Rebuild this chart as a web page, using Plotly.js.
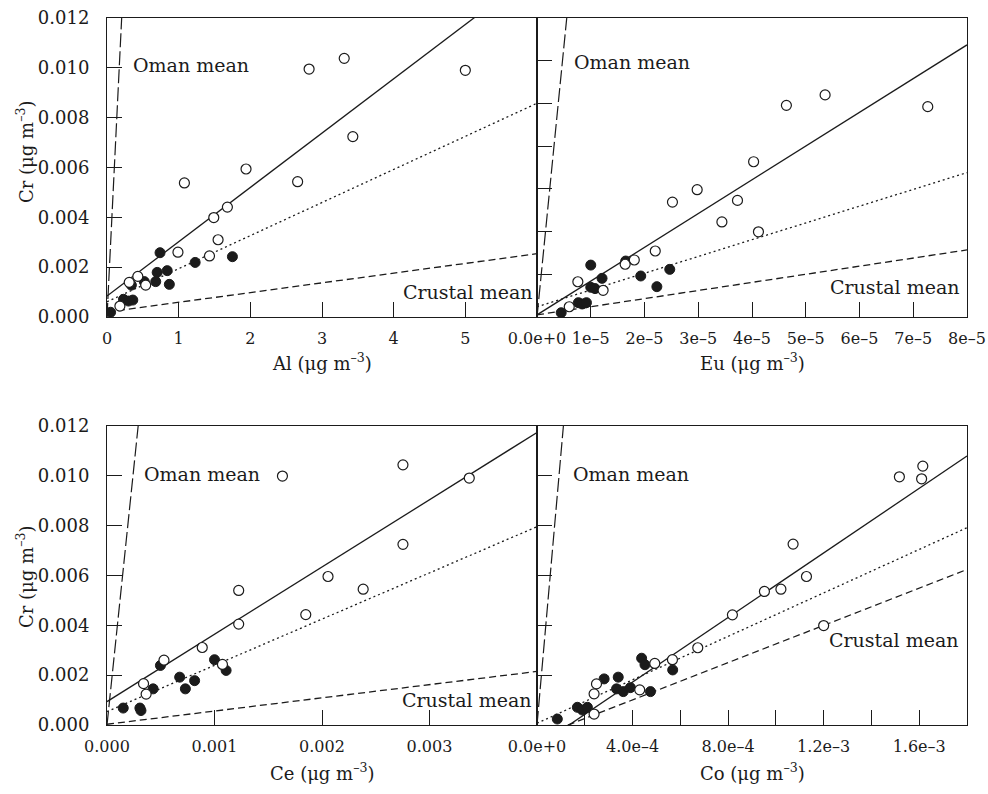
<!DOCTYPE html>
<html><head><meta charset="utf-8">
<script src="https://cdn.plot.ly/plotly-3.0.1.min.js"></script>
<style>html,body{margin:0;padding:0;background:#fff}#chart{width:988px;height:794px}</style>
</head><body><div id="chart"></div>
<script>
// ---------- data (Cr vs element, µg m-3) ----------
const alOpenX = [2.82,3.31,5.00,3.43,1.94,1.08,2.66,1.68,1.49,1.55,0.99,1.43,0.43,0.31,0.54,0.18];
const alOpenY = [0.00995,0.01038,0.0099,0.00724,0.00594,0.00538,0.00543,0.00441,0.00399,0.0031,0.0026,0.00245,0.00163,0.00139,0.00128,0.00044];
const alFillX = [0.74,1.23,1.75,0.70,0.84,0.68,0.87,0.34,0.52,0.23,0.30,0.36,0.05];
const alFillY = [0.00258,0.00219,0.00242,0.00179,0.00186,0.00142,0.00131,0.00128,0.00142,0.00071,0.00064,0.00068,0.00019];

const euOpenX = [4.64e-5,5.36e-5,7.27e-5,4.03e-5,2.98e-5,2.52e-5,3.73e-5,3.44e-5,4.12e-5,2.20e-5,1.81e-5,1.64e-5,0.76e-5,1.23e-5,0.60e-5];
const euOpenY = [0.00991,0.0104,0.00985,0.00727,0.00596,0.00538,0.00546,0.00445,0.00399,0.00309,0.00267,0.00247,0.00165,0.00125,0.00048];
const euFillX = [1.00e-5,1.65e-5,1.21e-5,1.93e-5,2.47e-5,2.23e-5,1.00e-5,1.08e-5,0.77e-5,0.84e-5,0.92e-5,0.45e-5];
const euFillY = [0.00243,0.00262,0.00181,0.00192,0.00223,0.00142,0.00139,0.00133,0.00067,0.00061,0.00067,0.0002];

const ceOpenX = [0.001632,0.002753,0.00337,0.002753,0.002056,0.001225,0.002383,0.001849,0.001225,0.000886,0.00053,0.001074,0.00034,0.000364];
const ceOpenY = [0.00999,0.01044,0.00991,0.00725,0.00596,0.0054,0.00545,0.00443,0.00405,0.00311,0.0026,0.00243,0.00166,0.00124];
const ceFillX = [0.000497,0.001,0.001108,0.000429,0.000676,0.000815,0.000729,0.000151,0.000306,0.000316];
const ceFillY = [0.00239,0.00262,0.00219,0.00145,0.00192,0.00178,0.00145,0.00068,0.00068,0.00058];

const coOpenX = [1.517e-3,1.615e-3,1.610e-3,1.072e-3,1.128e-3,0.952e-3,1.021e-3,0.818e-3,1.200e-3,0.673e-3,0.567e-3,0.493e-3,0.249e-3,0.239e-3,0.430e-3,0.239e-3];
const coOpenY = [0.00996,0.01039,0.00988,0.00726,0.00596,0.00536,0.00545,0.00442,0.00399,0.0031,0.00262,0.00247,0.00165,0.00125,0.00141,0.00044];
const coFillX = [0.438e-3,0.452e-3,0.568e-3,0.281e-3,0.34e-3,0.333e-3,0.361e-3,0.391e-3,0.475e-3,0.169e-3,0.19e-3,0.211e-3,0.085e-3];
const coFillY = [0.00268,0.00242,0.00221,0.00185,0.00192,0.00145,0.00134,0.0015,0.00134,0.00071,0.0006,0.00071,0.00024];

// reference lines: [intercept, slope] for Oman mean, regression, dotted fit, crustal mean
const alLines = {oman:[0,0.0586], fit:[0.00084,0.00218], dot:[0.00061,0.001328], crust:[0.0002,0.00039]};
const euLines = {oman:[0,2530], fit:[0.0001,158], dot:[0.00048,78.5], crust:[0.0001,38]};
const ceLines = {oman:[0,41.4], fit:[0.00094,2.7], dot:[0.00054,1.855], crust:[0.00003,0.53]};
const coLines = {oman:[0,108.6], fit:[-0.00087,6.48], dot:[0.00007,4.36], crust:[-0.00049,3.74]};

// tick labels
const crTickVals = [0,0.002,0.004,0.006,0.008,0.010,0.012];
const crTickText = ["0.000","0.002","0.004","0.006","0.008","0.010","0.012"];
const alTickVals = [0,1,2,3,4,5];
const alTickText = ["0","1","2","3","4","5"];
const euTickVals = [0,1e-5,2e-5,3e-5,4e-5,5e-5,6e-5,7e-5,8e-5];
const euTickText = ["0.0e+0","1e–5","2e–5","3e–5","4e–5","5e–5","6e–5","7e–5","8e–5"];
const ceTickVals = [0,0.001,0.002,0.003];
const ceTickText = ["0.000","0.001","0.002","0.003"];
const coTickVals = [0,2e-4,4e-4,6e-4,8e-4,1.0e-3,1.2e-3,1.4e-3,1.6e-3];
const coTickText = ["0.0e+0","","4.0e–4","","8.0e–4","","1.2e–3","","1.6e–3"];
const crCr2Vals = [0,0.002,0.004,0.006,0.008,0.010,0.012,0.014];

// ---------- build ----------
const FONT = "DejaVu Serif";
const INK = "#1b1b1b";
const traces = [];
function addPanel(xa, ya, xmax, lines, fx, fy, ox, oy){
  const lineStyles = {
    oman:{dash:"14px,4px", width:1.2},
    fit:{dash:"solid", width:1.3},
    dot:{dash:"2px,3px", width:1.3},
    crust:{dash:"7px,4px", width:1.3}
  };
  for (const k of ["crust","dot","fit","oman"]){
    const [b,m] = lines[k];
    traces.push({x:[0,xmax], y:[b, b+m*xmax], xaxis:xa, yaxis:ya, mode:"lines",
      line:{color:INK, width:lineStyles[k].width, dash:lineStyles[k].dash}, hoverinfo:"skip", showlegend:false});
  }
  traces.push({x:fx, y:fy, xaxis:xa, yaxis:ya, mode:"markers", showlegend:false,
    marker:{size:10, color:INK, line:{color:INK, width:1}}});
  traces.push({x:ox, y:oy, xaxis:xa, yaxis:ya, mode:"markers", showlegend:false,
    marker:{size:10, color:"#ffffff", line:{color:INK, width:1.2}}});
}
addPanel("x","y",6,alLines,alFillX,alFillY,alOpenX,alOpenY);
addPanel("x2","y2",8e-5,euLines,euFillX,euFillY,euOpenX,euOpenY);
addPanel("x3","y3",0.004,ceLines,ceFillX,ceFillY,ceOpenX,ceOpenY);
addPanel("x4","y4",0.0018,coLines,coFillX,coFillY,coOpenX,coOpenY);

const W=988,H=794;
const xL=[107/W,537/W], xR=[537/W,967/W];
const yT=[1-317/H,1-18/H], yB=[1-725/H,1-426/H];
function ax(domain, range, vals, text, anchor, show, size, standoff){
  return {domain:domain, range:range, tickmode:"array", tickvals:vals, ticktext:text,
    ticks:"inside", ticklen:15, tickwidth:1, tickcolor:INK, showline:true, linecolor:INK, linewidth:1,
    mirror:true, showgrid:false, zeroline:false, anchor:anchor, showticklabels:show,
    tickfont:{family:FONT, size:size, color:INK}, automargin:false, fixedrange:true, ticklabelstandoff:standoff};
}
const layout = {
  width:W, height:H, margin:{l:0,r:0,t:0,b:0}, paper_bgcolor:"#fff", plot_bgcolor:"#fff",
  font:{family:FONT, color:INK},
  xaxis: ax(xL,[0,6],alTickVals,alTickText,"y",true,16,7),
  yaxis: ax(yT,[0,0.012],crTickVals,crTickText,"x",true,18,13),
  xaxis2: ax(xR,[0,8e-5],euTickVals,euTickText,"y2",true,16,7),
  yaxis2: ax(yT,[0,0.014],crCr2Vals,crCr2Vals.map(String),"x2",false,18,13),
  xaxis3: ax(xL,[0,0.004],ceTickVals,ceTickText,"y3",true,16,7),
  yaxis3: ax(yB,[0,0.012],crTickVals,crTickText,"x3",true,18,13),
  xaxis4: ax(xR,[0,0.0018],coTickVals,coTickText,"y4",true,16,7),
  yaxis4: ax(yB,[0,0.012],crTickVals,crTickText,"x4",false,18,13),
  annotations:[]
};
const lab = (xr,yr,x,y,t)=>({xref:xr,yref:yr,x:x,y:y,text:t,showarrow:false,xanchor:"left",yanchor:"middle",
  font:{family:FONT,size:19,color:INK}});
layout.annotations.push(
  lab("x","y",0.334,0.0101,"Oman mean"), lab("x","y",4.10,0.0010,"Crustal mean"),
  lab("x2","y2",0.646e-5,0.01194,"Oman mean"), lab("x2","y2",5.41e-5,0.0014,"Crustal mean"),
  lab("x3","y3",0.000321,0.01007,"Oman mean"), lab("x3","y3",0.002729,0.001007,"Crustal mean"),
  lab("x4","y4",1.415e-4,0.01007,"Oman mean"), lab("x4","y4",1.212e-3,0.00342,"Crustal mean")
);
const ttl = (px,py,t,ang)=>({xref:"paper",yref:"paper",x:px/W,y:1-py/H,text:t,showarrow:false,
  xanchor:"center",yanchor:"middle",textangle:ang||0,font:{family:FONT,size:18,color:INK}});
const unit = " (μg m<sup>–3</sup>)";
layout.annotations.push(
  ttl(322,362,"Al"+unit), ttl(752,362,"Eu"+unit),
  ttl(322,772,"Ce"+unit), ttl(752,772,"Co"+unit),
  ttl(25,152,"Cr"+unit,-90), ttl(25,577,"Cr"+unit,-90)
);
Plotly.newPlot("chart", traces, layout, {staticPlot:true, displayModeBar:false});
</script></body></html>
